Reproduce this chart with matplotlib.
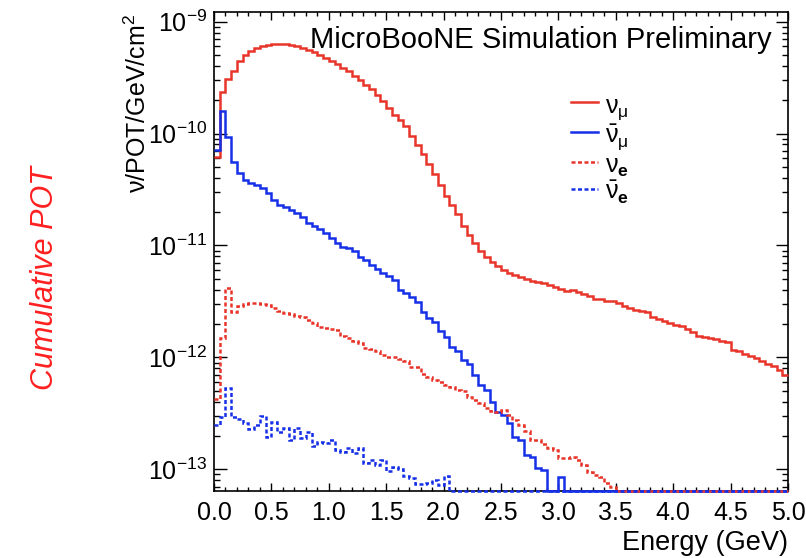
import numpy as np
import matplotlib.pyplot as plt
from matplotlib.lines import Line2D
from matplotlib.ticker import MultipleLocator, LogLocator, NullFormatter

plt.rcParams['font.family'] = ['Liberation Sans', 'DejaVu Sans']
plt.rcParams['mathtext.fontset'] = 'custom'
plt.rcParams['mathtext.rm'] = 'Liberation Sans'
plt.rcParams['mathtext.it'] = 'Liberation Sans:italic'
plt.rcParams['mathtext.bf'] = 'Liberation Sans:bold'

# 100 bins of 0.05 GeV between 0 and 5 GeV
energy_edges = np.linspace(0.0, 5.0, 101)

# flux per bin (nu / POT / GeV / cm^2)
numu = [6.2e-11, 2.36e-10, 3.07e-10, 3.64e-10, 4.44e-10, 5.02e-10, 5.45e-10, 5.76e-10, 6.08e-10, 6.25e-10,
        6.38e-10, 6.34e-10, 6.30e-10, 6.21e-10, 6.08e-10, 5.83e-10, 5.60e-10, 5.35e-10, 5.02e-10, 4.72e-10,
        4.44e-10, 4.18e-10, 3.87e-10, 3.59e-10, 3.28e-10, 3.01e-10, 2.73e-10, 2.50e-10, 2.21e-10, 1.95e-10,
        1.70e-10, 1.46e-10, 1.32e-10, 1.17e-10, 9.5e-11, 7.85e-11, 6.56e-11, 5.35e-11, 4.35e-11, 3.47e-11,
        2.77e-11, 2.30e-11, 1.91e-11, 1.49e-11, 1.24e-11, 1.05e-11, 9.0e-12, 7.9e-12, 7.16e-12, 6.49e-12,
        6.04e-12, 5.65e-12, 5.45e-12, 5.26e-12, 5.02e-12, 4.82e-12, 4.69e-12, 4.59e-12, 4.44e-12, 4.29e-12,
        4.09e-12, 3.95e-12, 4.01e-12, 3.82e-12, 3.69e-12, 3.54e-12, 3.33e-12, 3.30e-12, 3.21e-12, 3.16e-12,
        3.08e-12, 2.88e-12, 2.79e-12, 2.67e-12, 2.60e-12, 2.55e-12, 2.28e-12, 2.19e-12, 2.10e-12, 2.02e-12,
        1.96e-12, 1.92e-12, 1.79e-12, 1.70e-12, 1.56e-12, 1.51e-12, 1.48e-12, 1.45e-12, 1.40e-12, 1.36e-12,
        1.17e-12, 1.15e-12, 1.07e-12, 1.02e-12, 9.8e-13, 9.2e-13, 8.7e-13, 8.3e-13, 7.7e-13, 7.0e-13]

numubar = [7.13e-11, 1.59e-10, 9.25e-11, 5.57e-11, 4.47e-11, 3.82e-11, 3.64e-11, 3.47e-11, 3.24e-11, 2.92e-11,
           2.55e-11, 2.31e-11, 2.19e-11, 2.07e-11, 1.94e-11, 1.81e-11, 1.60e-11, 1.50e-11, 1.40e-11, 1.29e-11,
           1.17e-11, 1.05e-11, 9.76e-12, 9.44e-12, 8.99e-12, 7.94e-12, 7.43e-12, 6.70e-12, 6.17e-12, 5.65e-12,
           5.31e-12, 4.92e-12, 4.01e-12, 3.73e-12, 3.43e-12, 3.10e-12, 2.56e-12, 2.25e-12, 2.05e-12, 1.72e-12,
           1.51e-12, 1.23e-12, 1.13e-12, 9.4e-13, 8.75e-13, 6.98e-13, 5.68e-13, 5.13e-13, 4.03e-13, 3.28e-13,
           3.07e-13, 2.58e-13, 1.96e-13, 1.83e-13, 1.35e-13, 1.29e-13, 1.03e-13, 9.9e-14, 0.0, 0.0,
           8.6e-14, 0.0, 0.0, 0.0, 0.0, 0.0, 0.0, 0.0, 0.0, 0.0,
           0.0, 0.0, 0.0, 0.0, 0.0, 0.0, 0.0, 0.0, 0.0, 0.0,
           0.0, 0.0, 0.0, 0.0, 0.0, 0.0, 0.0, 0.0, 0.0, 0.0,
           0.0, 0.0, 0.0, 0.0, 0.0, 0.0, 0.0, 0.0, 0.0, 0.0]

nue = [4.26e-13, 1.48e-12, 4.15e-12, 2.56e-12, 2.88e-12, 2.98e-12, 3.05e-12, 3.05e-12, 2.98e-12, 2.94e-12,
       2.75e-12, 2.62e-12, 2.51e-12, 2.43e-12, 2.36e-12, 2.31e-12, 2.16e-12, 2.02e-12, 1.88e-12, 1.82e-12,
       1.79e-12, 1.74e-12, 1.56e-12, 1.48e-12, 1.41e-12, 1.34e-12, 1.21e-12, 1.18e-12, 1.14e-12, 1.05e-12,
       1.00e-12, 1.00e-12, 9.7e-13, 9.3e-13, 8.28e-13, 8.2e-13, 7.05e-13, 6.70e-13, 6.34e-13, 6.02e-13,
       5.68e-13, 5.39e-13, 5.13e-13, 5.00e-13, 4.47e-13, 4.18e-13, 3.90e-13, 3.56e-13, 3.35e-13, 3.28e-13,
       3.40e-13, 3.07e-13, 2.77e-13, 2.49e-13, 2.22e-13, 1.83e-13, 1.83e-13, 1.69e-13, 1.55e-13, 1.49e-13,
       1.26e-13, 1.26e-13, 1.30e-13, 1.22e-13, 1.10e-13, 9.55e-14, 8.9e-14, 8.5e-14, 7.5e-14, 6.9e-14,
       0.0, 0.0, 0.0, 0.0, 0.0, 0.0, 0.0, 0.0, 0.0, 0.0,
       0.0, 0.0, 0.0, 0.0, 0.0, 0.0, 0.0, 0.0, 0.0, 0.0,
       0.0, 0.0, 0.0, 0.0, 0.0, 0.0, 0.0, 0.0, 0.0, 0.0]

nuebar = [2.49e-13, 2.96e-13, 5.31e-13, 2.96e-13, 2.81e-13, 2.58e-13, 2.29e-13, 2.49e-13, 3.01e-13, 1.96e-13,
          2.67e-13, 2.17e-13, 2.33e-13, 1.83e-13, 2.33e-13, 1.90e-13, 2.17e-13, 1.60e-13, 1.77e-13, 1.71e-13,
          1.81e-13, 1.49e-13, 1.44e-13, 1.55e-13, 1.41e-13, 1.55e-13, 1.14e-13, 1.20e-13, 1.10e-13, 1.20e-13,
          9.75e-14, 1.05e-13, 1.01e-13, 8.63e-14, 8.39e-14, 7.43e-14, 7.43e-14, 7.53e-14, 8.05e-14, 7.28e-14,
          8.65e-14, 0.0, 0.0, 0.0, 0.0, 0.0, 0.0, 0.0, 0.0, 0.0,
          0.0, 0.0, 0.0, 0.0, 0.0, 0.0, 0.0, 0.0, 0.0, 0.0,
          0.0, 0.0, 0.0, 0.0, 0.0, 0.0, 0.0, 0.0, 0.0, 0.0,
          0.0, 0.0, 0.0, 0.0, 0.0, 0.0, 0.0, 0.0, 0.0, 0.0,
          0.0, 0.0, 0.0, 0.0, 0.0, 0.0, 0.0, 0.0, 0.0, 0.0,
          0.0, 0.0, 0.0, 0.0, 0.0, 0.0, 0.0, 0.0, 0.0, 0.0]

labels = [r'$\mathrm{\nu_{\mu}}$', r'$\bar{\mathrm{\nu}}_{\mathrm{\mu}}$',
          r'$\mathrm{\nu}_{\mathbf{e}}$', r'$\bar{\mathrm{\nu}}_{\mathbf{e}}$']

ymin, ymax = 6.4e-14, 1.22e-9
red = '#e8352b'
blue = '#1530e6'
dash = (0, (1.6, 1.0))

fig = plt.figure(figsize=(8.06, 5.58), dpi=100)
ax = fig.add_axes([0.2655, 0.1201, 0.7122, 0.8584])


def floored(v):
    v = np.asarray(v)
    return np.where(v > 0, v, ymin)


# empty bins sit on the lower edge, drawn over the frame like ROOT does
series = [(numu, red, '-'), (numubar, blue, '-'), (nue, red, dash), (nuebar, blue, dash)]
handles = []
for vals, col, ls in series:
    ax.stairs(floored(vals), energy_edges, baseline=None, color=col, lw=1.8, linestyle=ls,
              zorder=3, clip_on=False)
    handles.append(Line2D([], [], color=col, lw=1.8, linestyle=ls))

ax.set_yscale('log')
ax.set_xlim(0, 5)
ax.set_ylim(ymin, ymax)

ax.xaxis.set_major_locator(MultipleLocator(0.5))
ax.xaxis.set_minor_locator(MultipleLocator(0.1))
ax.yaxis.set_major_locator(LogLocator(base=10))
ax.yaxis.set_minor_locator(LogLocator(base=10, subs=np.arange(2, 10)))
ax.yaxis.set_minor_formatter(NullFormatter())

ax.tick_params(which='both', direction='in', top=True, right=True, labelsize=18, width=1)
ax.tick_params(axis='x', which='major', length=6, pad=7)
ax.tick_params(axis='x', which='minor', length=3)
ax.tick_params(axis='y', which='major', length=9, pad=5)
ax.tick_params(axis='y', which='minor', length=4.5)
for s in ax.spines.values():
    s.set_linewidth(1.2)

ax.text(0.972, 0.925, 'MicroBooNE Simulation Preliminary', transform=ax.transAxes,
        ha='right', va='baseline', fontsize=21)

leg = ax.legend(handles, labels, loc='upper left', bbox_to_anchor=(0.60, 0.86),
                frameon=False, fontsize=18, handlelength=1.1, handletextpad=0.25,
                handleheight=1.15, labelspacing=0.0, borderpad=0.0)

fig.text(138 / 806, 1 - 14 / 558, r'ν/POT/GeV/cm$^{2}$', rotation=90, ha='center', va='top', fontsize=18)
fig.text(788 / 806, 1 - 543 / 558, 'Energy (GeV)', ha='right', va='center', fontsize=19.5)
fig.text(45 / 806, 1 - 278 / 558, 'Cumulative POT', rotation=90, ha='center', va='center',
         fontsize=22, style='italic', color='#ff2020')

fig.savefig('out.png', dpi=100)
